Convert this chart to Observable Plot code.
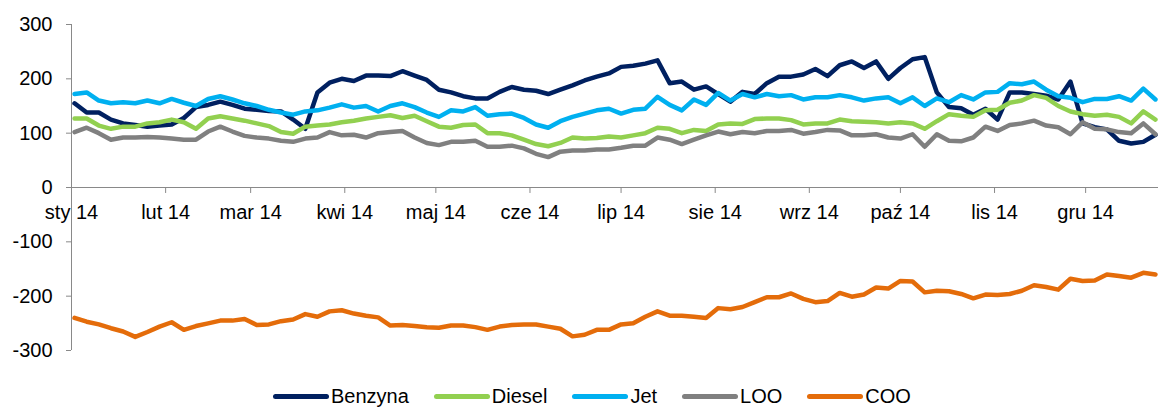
<!DOCTYPE html>
<html><head><meta charset="utf-8">
<script src="https://cdn.jsdelivr.net/npm/d3@7"></script>
<script src="https://cdn.jsdelivr.net/npm/@observablehq/plot@0.6"></script>
<style>
body{margin:0;background:#fff;font-family:"Liberation Sans",Arial,sans-serif;}
#legend{display:flex;align-items:center;height:32px;line-height:20px;padding-left:273px;font-size:20px;color:#000;}
.item{display:flex;align-items:center;margin-right:25px;}
.sw{display:inline-block;width:56px;height:5px;border-radius:3px;margin-right:2px;}
</style></head><body>
<div id="chart"></div>
<div id="legend"></div>
<script>
const dates = ["2014-01-02","2014-01-06","2014-01-10","2014-01-14","2014-01-18","2014-01-22","2014-01-26","2014-01-30",
"2014-02-03","2014-02-07","2014-02-11","2014-02-15","2014-02-19","2014-02-23","2014-02-27",
"2014-03-03","2014-03-07","2014-03-11","2014-03-15","2014-03-19","2014-03-23","2014-03-27","2014-03-31",
"2014-04-04","2014-04-08","2014-04-12","2014-04-16","2014-04-20","2014-04-24","2014-04-28",
"2014-05-02","2014-05-06","2014-05-10","2014-05-14","2014-05-18","2014-05-22","2014-05-26","2014-05-30",
"2014-06-03","2014-06-07","2014-06-11","2014-06-15","2014-06-19","2014-06-23","2014-06-27",
"2014-07-01","2014-07-05","2014-07-09","2014-07-13","2014-07-17","2014-07-21","2014-07-25","2014-07-29",
"2014-08-02","2014-08-06","2014-08-10","2014-08-14","2014-08-18","2014-08-22","2014-08-26","2014-08-30",
"2014-09-03","2014-09-07","2014-09-11","2014-09-15","2014-09-19","2014-09-23","2014-09-27",
"2014-10-01","2014-10-05","2014-10-09","2014-10-13","2014-10-17","2014-10-21","2014-10-25","2014-10-29",
"2014-11-02","2014-11-06","2014-11-10","2014-11-14","2014-11-18","2014-11-22","2014-11-26","2014-11-30",
"2014-12-04","2014-12-08","2014-12-12","2014-12-16","2014-12-20","2014-12-24"];

const benzyna = [155,138,138,125,118,115,112,114,116,128,148,152,158,152,145,
143,141,140,125,108,175,193,200,196,206,206,205,214,206,198,
180,175,168,164,164,176,185,180,178,172,180,188,197,204,210,
222,224,228,234,192,195,180,186,172,158,176,172,192,204,204,
208,218,205,225,232,220,232,200,220,236,240,175,148,146,134,
145,125,175,175,172,169,162,195,118,111,107,86,81,84,97];

const diesel = [127,127,114,108,112,112,118,120,125,120,108,127,131,127,123,
118,113,102,99,112,114,116,120,123,127,130,133,128,132,122,
112,110,115,116,100,100,96,88,80,76,82,92,90,91,94,
92,96,100,110,108,100,106,104,116,118,117,126,127,127,124,
116,118,118,125,122,121,120,118,120,118,108,122,135,132,130,
142,143,156,160,170,165,150,140,135,132,134,130,118,140,125];

const jet = [172,175,160,155,157,155,160,155,163,156,150,163,168,162,155,
150,143,138,134,140,142,147,153,147,150,140,150,155,148,138,
130,142,140,148,132,135,136,128,116,110,122,130,136,142,145,
136,143,145,167,152,142,162,152,174,160,172,166,172,168,170,
162,166,166,170,166,160,164,166,155,166,150,164,157,170,162,
175,176,192,190,195,180,168,165,157,163,163,168,160,182,162];

const loo = [102,110,100,88,92,92,93,92,90,88,88,103,112,103,95,
92,90,86,84,90,92,102,96,97,92,100,102,104,92,82,
78,84,84,86,75,75,77,72,62,56,66,68,68,70,70,
73,77,77,92,88,80,88,96,103,98,102,100,104,104,106,
99,102,106,105,96,96,98,92,90,98,75,98,86,85,92,
112,104,115,118,123,114,111,98,120,108,107,102,100,118,98];

const coo = [-240,-247,-252,-259,-265,-275,-266,-256,-248,-262,-255,-250,-245,-245,-242,
-253,-252,-246,-243,-233,-238,-228,-226,-232,-236,-239,-254,-253,-255,-257,
-258,-254,-254,-257,-262,-256,-253,-252,-252,-256,-260,-274,-271,-262,-262,
-252,-250,-238,-228,-236,-236,-238,-240,-222,-224,-220,-211,-202,-202,-195,
-205,-211,-209,-194,-201,-197,-184,-186,-172,-173,-193,-190,-191,-196,-204,
-197,-198,-196,-190,-180,-183,-188,-168,-172,-171,-160,-163,-166,-157,-160];

const seriesNames = ["Benzyna","Diesel","Jet","LOO","COO"];
const seriesColors = ["#002060","#92D050","#00B0F0","#808080","#E46C0A"];
const monthTicks = ["2014-01-01","2014-02-01","2014-03-01","2014-04-01","2014-05-01","2014-06-01",
"2014-07-01","2014-08-01","2014-09-01","2014-10-01","2014-11-01","2014-12-01"];
const monthLabels = ["sty 14","lut 14","mar 14","kwi 14","maj 14","cze 14","lip 14","sie 14","wrz 14","paź 14","lis 14","gru 14"];
const yTicks = [-300,-200,-100,0,100,200,300];
const xDomain = ["2014-01-01","2014-12-25"];

const seriesValues = [benzyna, diesel, jet, loo, coo];
const rows = seriesNames.flatMap((name, s) =>
  dates.map((d, i) => ({series: name, date: new Date(d), value: seriesValues[s][i]})));
const months = monthTicks.map((d, i) => ({date: new Date(d), label: monthLabels[i], zero: 0}));
const axisGray = "#898989";

const chart = Plot.plot({
  width: 1159, height: 380,
  marginLeft: 71, marginRight: 1, marginTop: 24, marginBottom: 30,
  style: {fontFamily: "'Liberation Sans', Arial, sans-serif", background: "#fff", overflow: "visible"},
  x: {type: "utc", domain: xDomain.map(d => new Date(d)), axis: null},
  y: {domain: [yTicks[0], yTicks[yTicks.length - 1]], label: null},
  color: {domain: seriesNames, range: seriesColors},
  marks: [
    Plot.ruleX([new Date(xDomain[0])], {y1: yTicks[0], y2: yTicks[yTicks.length - 1], stroke: axisGray, strokeWidth: 1}),
    Plot.axisY(yTicks, {tickSize: 5, tickPadding: 14, fontSize: 20, stroke: axisGray, fill: "#000",
      tickFormat: d => String(d), label: null}),
    Plot.ruleY([0], {stroke: axisGray, strokeWidth: 1}),
    Plot.ruleX(months, {x: "date", y1: "zero", y2: d => d.zero - 11, stroke: axisGray, strokeWidth: 1}),
    Plot.text(months, {x: "date", y: "zero", text: "label", dy: 25, fontSize: 20, fill: "#000"}),
    Plot.line(rows, {x: "date", y: "value", z: "series", stroke: "series", strokeWidth: 4.5,
      strokeLinejoin: "round", strokeLinecap: "round"})
  ]
});
document.getElementById("chart").appendChild(chart);

const legend = document.getElementById("legend");
seriesNames.forEach((name, i) => {
  const item = document.createElement("span");
  item.className = "item";
  const sw = document.createElement("span");
  sw.className = "sw";
  sw.style.background = seriesColors[i];
  item.appendChild(sw);
  item.appendChild(document.createTextNode(name));
  legend.appendChild(item);
});
</script>
</body></html>
